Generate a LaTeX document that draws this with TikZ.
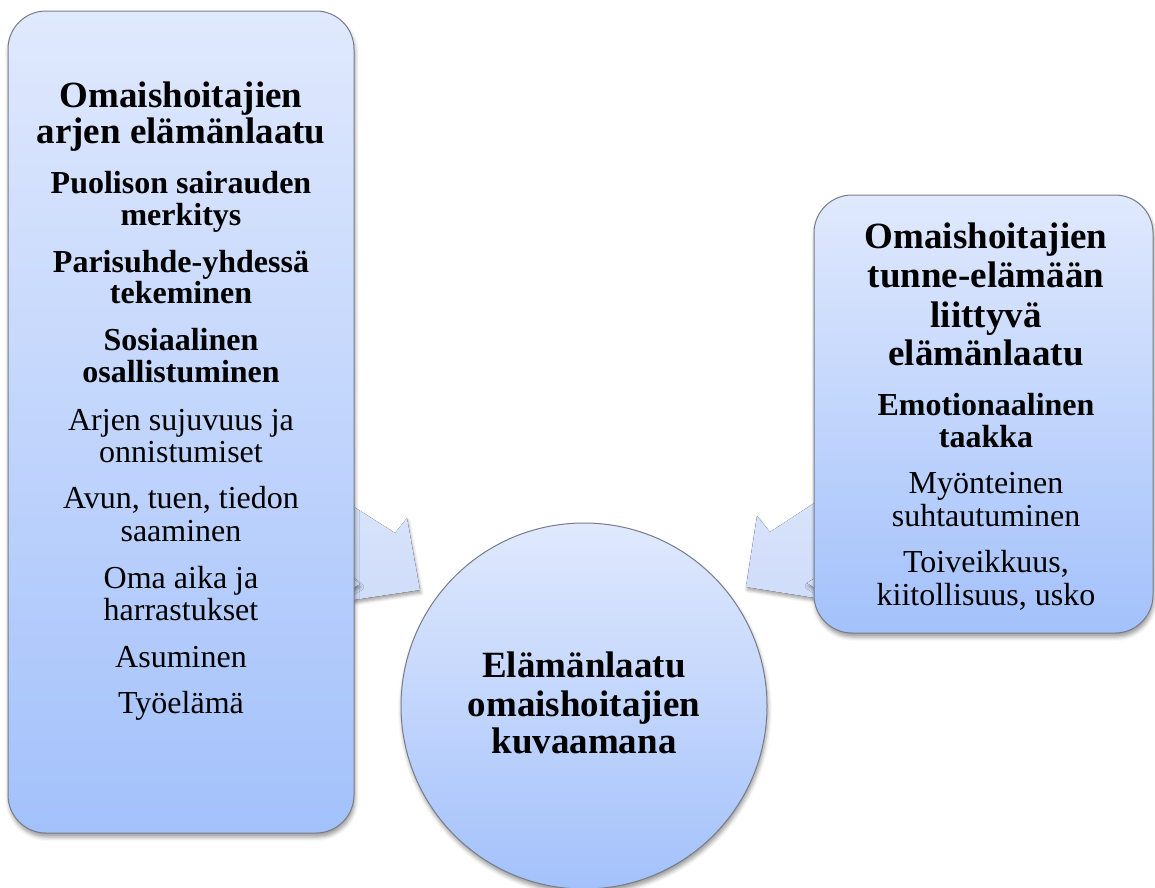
\documentclass[tikz,border=0pt]{standalone}
\usepackage{fontspec}
\setmainfont{Liberation Serif}
\usetikzlibrary{shadows.blur}
\definecolor{boxtop}{RGB}{224,233,253}
\definecolor{boxbot}{RGB}{163,193,251}
\definecolor{arrowfill}{RGB}{216,227,251}
\definecolor{arrowfillb}{RGB}{208,221,249}
\definecolor{edge}{RGB}{120,124,135}
\tikzset{
  box/.style={draw=edge, line width=1pt, rounded corners=38pt, top color=boxtop, bottom color=boxbot,
    blur shadow={shadow xshift=1pt, shadow yshift=-4pt, shadow blur radius=4pt, shadow opacity=40}},
  circ/.style={draw=edge, line width=1pt, top color=boxtop, bottom color=boxbot,
    blur shadow={shadow xshift=1pt, shadow yshift=-4pt, shadow blur radius=4pt, shadow opacity=40}},
  arr/.style={top color=arrowfill, bottom color=arrowfillb, draw=none,
    blur shadow={shadow xshift=1pt, shadow yshift=-3pt, shadow blur radius=3pt, shadow opacity=35}},
  ttl/.style={anchor=base, inner sep=0pt, font=\fontsize{37}{38}\selectfont\bfseries},
  sub/.style={anchor=base, inner sep=0pt, font=\fontsize{32}{33}\selectfont\bfseries},
  reg/.style={anchor=base, inner sep=0pt, font=\fontsize{32}{33}\selectfont},
}
\begin{document}
\begin{tikzpicture}[x=1pt, y=-1pt]
\useasboundingbox (0,0) rectangle (1155,887);
% arrows (drawn first, partly hidden by boxes)
\coordinate (la1) at (340,498);
\coordinate (la2) at (395,533);
\coordinate (la3) at (407,518);
\coordinate (la4) at (420,590);
\coordinate (la5) at (340,602);
\fill[arr] (la1) -- (la2) -- (la3) -- (la4) -- (la5) -- cycle;
\coordinate (ln1) at (350,576);
\coordinate (ln2) at (360,584);
\coordinate (ln3) at (350,590);
\fill[arr] (ln1) -- (ln2) -- (ln3) -- cycle;
\coordinate (ra1) at (828,494);
\coordinate (ra2) at (770,532);
\coordinate (ra3) at (757,516);
\coordinate (ra4) at (746,587);
\coordinate (ra5) at (828,600);
\fill[arr] (ra1) -- (ra2) -- (ra3) -- (ra4) -- (ra5) -- cycle;
\coordinate (rn1) at (818,576);
\coordinate (rn2) at (807,583);
\coordinate (rn3) at (818,590);
\fill[arr] (rn1) -- (rn2) -- (rn3) -- cycle;
% boxes
\path[box] (8,11) rectangle (354,833);
\path[box] (814,195) rectangle (1153,633);
\path[circ] (584,706) circle[radius=183];
% left box text
\node[ttl] (l1) at (181,107) {Omaishoitajien};
\node[ttl] (l2) at (181,143) {arjen elämänlaatu};
\node[sub] (l3) at (181,193) {Puolison sairauden};
\node[sub] (l4) at (181,225) {merkitys};
\node[sub] (l5) at (181,272) {Parisuhde-yhdessä};
\node[sub] (l6) at (181,303) {tekeminen};
\node[sub] (l7) at (181,350) {Sosiaalinen};
\node[sub] (l8) at (181,382) {osallistuminen};
\node[reg] (l9) at (181,430) {Arjen sujuvuus ja};
\node[reg] (l10) at (181,462) {onnistumiset};
\node[reg] (l11) at (181,508) {Avun, tuen, tiedon};
\node[reg] (l12) at (181,541) {saaminen};
\node[reg] (l13) at (181,588) {Oma aika ja};
\node[reg] (l14) at (181,620) {harrastukset};
\node[reg] (l15) at (181,667) {Asuminen};
\node[reg] (l16) at (181,713) {Työelämä};
% right box text
\node[ttl] (r1) at (986,248) {Omaishoitajien};
\node[ttl] (r2) at (986,287) {tunne-elämään};
\node[ttl] (r3) at (986,327) {liittyvä};
\node[ttl] (r4) at (986,365) {elämänlaatu};
\node[sub] (r5) at (986,415) {Emotionaalinen};
\node[sub] (r6) at (986,447) {taakka};
\node[reg] (r7) at (986,493) {Myönteinen};
\node[reg] (r8) at (986,526) {suhtautuminen};
\node[reg] (r9) at (986,572) {Toiveikkuus,};
\node[reg] (r10) at (986,605) {kiitollisuus, usko};
% circle text
\node[ttl] (c1) at (584,677) {Elämänlaatu};
\node[ttl] (c2) at (584,716) {omaishoitajien};
\node[ttl] (c3) at (584,753) {kuvaamana};
\end{tikzpicture}
\end{document}
